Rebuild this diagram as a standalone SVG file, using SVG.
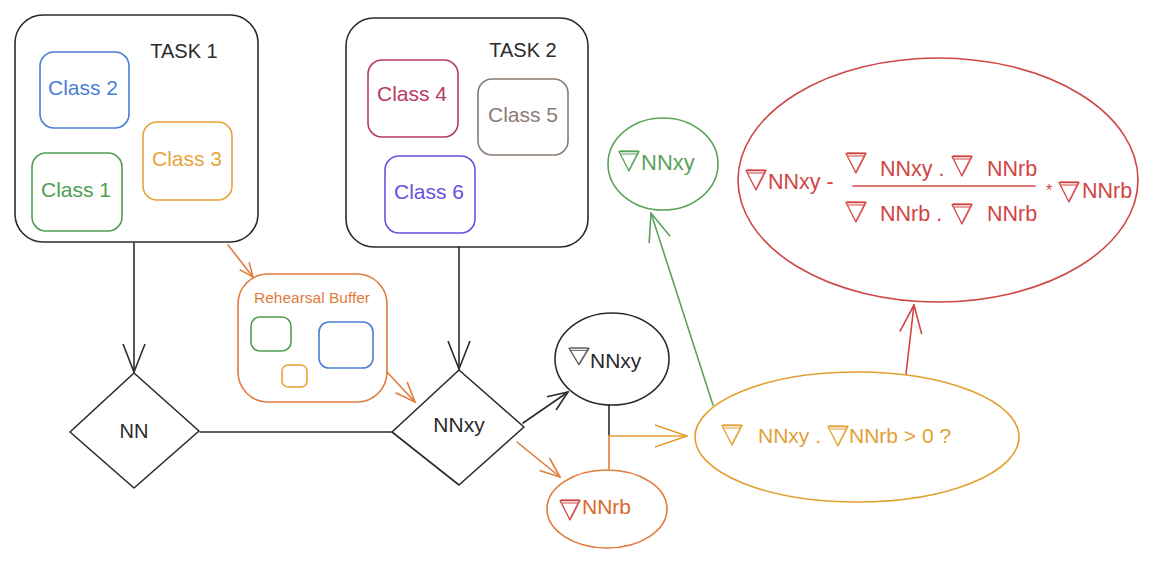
<svg xmlns="http://www.w3.org/2000/svg" xmlns:xlink="http://www.w3.org/1999/xlink" width="1150" height="565" viewBox="0 0 1150 565">
<style>
text{font-family:"Liberation Sans",Arial,sans-serif;}
.sh{fill:none;stroke-width:1.6;stroke-linecap:round;stroke-linejoin:round;}
.k{stroke:#2b2b2b;} .kt{fill:#2b2b2b;}
.bl{stroke:#4a7fd4;} .blt{fill:#4a7fd4;}
.or{stroke:#e8a338;} .ort{fill:#e8a338;}
.gr{stroke:#4f9e4f;} .grt{fill:#4f9e4f;}
.cr{stroke:#b83a5e;} .crt{fill:#b83a5e;}
.tp{stroke:#8c7b72;} .tpt{fill:#8c7b72;}
.pu{stroke:#6a4fe0;} .put{fill:#6a4fe0;}
.bo{stroke:#e07b3c;} .bot{fill:#e07b3c;}
.ye{stroke:#e3a032;} .yet{fill:#e3a032;}
.rd{stroke:#d04545;} .rdt{fill:#d04545;}
.gg{stroke:#5aa35a;} .ggt{fill:#5aa35a;}
.cls{font-size:21px;text-anchor:middle;}
.big{font-size:21px;}
.red{font-size:21.5px;fill:#d04545;}
</style>
<defs>
<g id="nabla" fill="none" stroke="currentColor" stroke-linejoin="round" stroke-linecap="round">
<path d="M1,1.5 L21,1.5 L11,21 Z" stroke-width="1.3"/>
<path d="M2.5,0.5 L20.5,0.8 L10.5,20" stroke-width="0.9" opacity="0.7"/>
<path d="M3,4 L19,4" stroke-width="1"/>
</g>
<marker id="hk" viewBox="0 0 30 24" refX="29" refY="12" markerWidth="30" markerHeight="24" markerUnits="userSpaceOnUse" orient="auto"><path d="M1,1 L29,12 L1,23" fill="none" stroke="#2b2b2b" stroke-width="1.6"/></marker>
<marker id="hkm" viewBox="0 0 22 18" refX="21" refY="9" markerWidth="22" markerHeight="18" markerUnits="userSpaceOnUse" orient="auto"><path d="M1,1 L21,9 L1,17" fill="none" stroke="#2b2b2b" stroke-width="1.6"/></marker>
<marker id="hos" viewBox="0 0 16 14" refX="15" refY="7" markerWidth="16" markerHeight="14" markerUnits="userSpaceOnUse" orient="auto"><path d="M1,1 L15,7 L1,13" fill="none" stroke="#e07b3c" stroke-width="1.5"/></marker>
<marker id="hom" viewBox="0 0 22 18" refX="21" refY="9" markerWidth="22" markerHeight="18" markerUnits="userSpaceOnUse" orient="auto"><path d="M1,1 L21,9 L1,17" fill="none" stroke="#e07b3c" stroke-width="1.6"/></marker>
<marker id="hy" viewBox="0 0 34 24" refX="33" refY="12" markerWidth="34" markerHeight="24" markerUnits="userSpaceOnUse" orient="auto"><path d="M1,1 L33,12 L1,23" fill="none" stroke="#e3a032" stroke-width="1.6"/></marker>
<marker id="hg" viewBox="0 0 30 24" refX="29" refY="12" markerWidth="30" markerHeight="24" markerUnits="userSpaceOnUse" orient="auto"><path d="M1,1 L29,12 L1,23" fill="none" stroke="#5aa35a" stroke-width="1.6"/></marker>
<marker id="hr" viewBox="0 0 30 24" refX="29" refY="12" markerWidth="30" markerHeight="24" markerUnits="userSpaceOnUse" orient="auto"><path d="M1,1 L29,12 L1,23" fill="none" stroke="#d04545" stroke-width="1.6"/></marker>
</defs>
<rect width="1150" height="565" fill="#ffffff"/>

<g id="connectors" class="sh">
<path class="k" d="M134,243 L134,372" marker-end="url(#hk)"/>
<path class="bo" d="M228,245 L253,277" marker-end="url(#hos)"/>
<path class="k" d="M459,247 L459,369" marker-end="url(#hk)"/>
<path class="bo" d="M387,372 L415,402" marker-end="url(#hom)"/>
<path class="k" d="M200,432 L392,432"/>
<path class="k" d="M523,423 L568,392" marker-end="url(#hkm)"/>
<path class="bo" d="M517,442 L560,477" marker-end="url(#hom)"/>
<path class="k" d="M609,405 L609,436"/>
<path class="bo" d="M609,436 L609,469"/>
<path class="ye" d="M609,436 L687,436" marker-end="url(#hy)"/>
<path class="gg" d="M713,405 L651,213" marker-end="url(#hg)"/>
<path class="rd" d="M906,374 L914,305" marker-end="url(#hr)"/>
</g>

<g id="task1">
<rect class="sh k" x="15" y="15" width="243" height="227" rx="28"/>
<text x="184" y="58" font-size="20" class="kt" text-anchor="middle">TASK 1</text>
</g>
<g id="class2">
<rect class="sh bl" x="40" y="52" width="89" height="76" rx="14"/>
<text x="83" y="95" class="cls blt">Class 2</text>
</g>
<g id="class3">
<rect class="sh or" x="143" y="122" width="89" height="78" rx="14"/>
<text x="187" y="166" class="cls ort">Class 3</text>
</g>
<g id="class1">
<rect class="sh gr" x="32" y="153" width="90" height="78" rx="14"/>
<text x="76" y="197" class="cls grt">Class 1</text>
</g>

<g id="task2">
<rect class="sh k" x="346" y="18" width="242" height="229" rx="28"/>
<text x="523" y="57" font-size="20" class="kt" text-anchor="middle">TASK 2</text>
</g>
<g id="class4">
<rect class="sh cr" x="368" y="60" width="90" height="77" rx="14"/>
<text x="412" y="101" class="cls crt">Class 4</text>
</g>
<g id="class5">
<rect class="sh tp" x="478" y="79" width="90" height="76" rx="14"/>
<text x="523" y="122" class="cls tpt">Class 5</text>
</g>
<g id="class6">
<rect class="sh pu" x="385" y="156" width="90" height="77" rx="14"/>
<text x="429" y="199" class="cls put">Class 6</text>
</g>

<g id="buffer">
<rect class="sh bo" x="238" y="274" width="149" height="128" rx="30"/>
<text x="312" y="303" font-size="15.5" class="bot" text-anchor="middle">Rehearsal Buffer</text>
<rect class="sh gr" x="251" y="317" width="40" height="34" rx="9"/>
<rect class="sh bl" x="319" y="322" width="54" height="46" rx="10"/>
<rect class="sh or" x="282" y="365" width="25" height="22" rx="6"/>
</g>

<g id="nn">
<path class="sh k" d="M134,373 L199,431 L134,488 L70,432 Z"/>
<text x="134" y="438" font-size="20" class="kt" text-anchor="middle">NN</text>
</g>

<g id="nnxy">
<path class="sh k" d="M459,370 L524,427 L459,485 L392,432 Z"/>
<text x="459" y="432" font-size="21" class="kt" text-anchor="middle">NNxy</text>
</g>

<g id="grad-nnxy">
<ellipse class="sh k" cx="612" cy="359" rx="57" ry="46"/>
<use href="#nabla" transform="translate(568,347) scale(1,0.85)" color="#555555"/>
<text x="590" y="368" class="big kt">NNxy</text>
</g>

<g id="grad-nnrb">
<ellipse class="sh bo" cx="607" cy="509" rx="60" ry="39"/>
<use href="#nabla" x="559" y="499" color="#c94a4a"/>
<text x="582" y="514" class="big" fill="#d9692b">NNrb</text>
</g>

<g id="condition">
<ellipse class="sh ye" cx="857" cy="437" rx="162" ry="65"/>
<use href="#nabla" x="721" y="424" color="#e3a032"/>
<text x="758" y="443" class="big yet">NNxy .</text>
<use href="#nabla" x="827" y="425" color="#e3a032"/>
<text x="849" y="443" class="big yet">NNrb &gt; 0 ?</text>
</g>

<g id="result-green">
<ellipse class="sh gg" cx="663" cy="164" rx="55" ry="46"/>
<use href="#nabla" x="618" y="150" color="#5aa35a"/>
<text x="641" y="170" font-size="22" class="ggt">NNxy</text>
</g>

<g id="result-red">
<ellipse class="sh rd" cx="938" cy="180" rx="200" ry="122"/>
<use href="#nabla" x="745" y="169" color="#d04545"/>
<text x="768" y="189" class="red">NNxy -</text>
<use href="#nabla" x="845" y="152" color="#d04545"/>
<text x="880" y="176" class="red">NNxy .</text>
<use href="#nabla" x="951" y="155" color="#d04545"/>
<text x="987" y="176" class="red">NNrb</text>
<path class="sh rd" d="M853,186 L1035,186" stroke-width="1.3"/>
<use href="#nabla" x="845" y="201" color="#d04545"/>
<text x="880" y="221" class="red">NNrb .</text>
<use href="#nabla" x="951" y="203" color="#d04545"/>
<text x="987" y="221" class="red">NNrb</text>
<text x="1046" y="196" font-size="16" fill="#d04545">*</text>
<use href="#nabla" x="1058" y="181" color="#d04545"/>
<text x="1082" y="198" class="red">NNrb</text>
</g>
</svg>
